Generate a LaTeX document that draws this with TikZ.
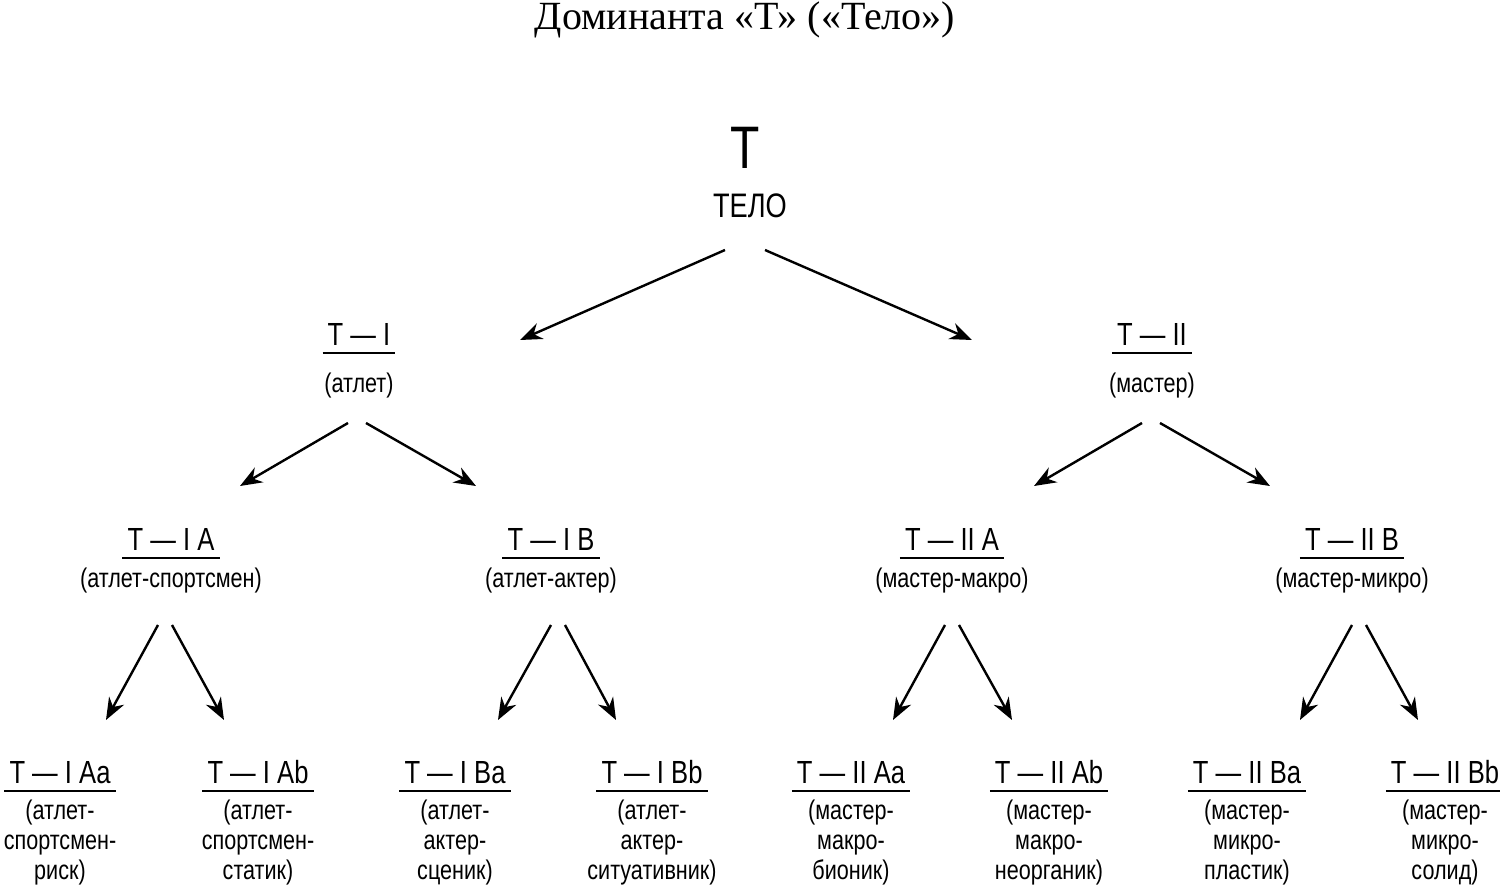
\documentclass[tikz,border=0pt]{standalone}
\usepackage{fontspec}
\setmainfont{Liberation Sans}
\newfontfamily\titlefont{Liberation Serif}
\newfontfamily\narrowfont[FakeStretch=0.8]{Liberation Sans}
\usetikzlibrary{arrows.meta}
\begin{document}
\begin{tikzpicture}[x=1pt,y=-1pt,
  lab/.style={font=\narrowfont\fontsize{32}{36}\selectfont,inner sep=1pt,anchor=base},
  desc/.style={font=\narrowfont\fontsize{27}{30}\selectfont,align=center,inner sep=0pt,anchor=base},
  mdesc/.style={font=\narrowfont\fontsize{27}{30}\selectfont,align=center,inner sep=0pt,anchor=north},
  arr/.style={line width=2.4pt,-{Stealth[length=22pt,width=17pt]}}]
\useasboundingbox (0,0) rectangle (1500,888);
\node[font=\titlefont\fontsize{40}{42}\selectfont,anchor=base] (title) at (745,30) {Доминанта «Т» («Тело»)};
\node[font=\narrowfont\fontsize{60}{60}\selectfont,anchor=base] (T) at (745,168) {Т};
\node[font=\narrowfont\fontsize{34}{36}\selectfont,anchor=base] (telo) at (750,218) {ТЕЛО};
\newcommand\ulab[4]{\node[lab] (#1) at (#2,#3) {#4};
  \draw[line width=1.6pt] ([xshift=-4pt,yshift=-8pt]#1.base west) -- ([xshift=4pt,yshift=-8pt]#1.base east);}
\ulab{t1}{359}{345}{Т — I}
\node[desc] (d1) at (359,392) {(атлет)};
\ulab{t2}{1152}{345}{Т — II}
\node[desc] (d2) at (1152,392) {(мастер)};
\ulab{t1a}{171}{550}{Т — I A}
\node[desc] (d1a) at (171,587) {(атлет-спортсмен)};
\ulab{t1b}{551}{550}{Т — I B}
\node[desc] (d1b) at (551,587) {(атлет-актер)};
\ulab{t2a}{952}{550}{Т — II A}
\node[desc] (d2a) at (952,587) {(мастер-макро)};
\ulab{t2b}{1352}{550}{Т — II B}
\node[desc] (d2b) at (1352,587) {(мастер-микро)};
\ulab{a1}{60}{783}{Т — I Aa}
\node[mdesc] (e1) at (60,800) {(атлет-\\спортсмен-\\риск)};
\ulab{a2}{258}{783}{Т — I Ab}
\node[mdesc] (e2) at (258,800) {(атлет-\\спортсмен-\\статик)};
\ulab{a3}{455}{783}{Т — I Ba}
\node[mdesc] (e3) at (455,800) {(атлет-\\актер-\\сценик)};
\ulab{a4}{652}{783}{Т — I Bb}
\node[mdesc] (e4) at (652,800) {(атлет-\\актер-\\ситуативник)};
\ulab{a5}{851}{783}{Т — II Aa}
\node[mdesc] (e5) at (851,800) {(мастер-\\макро-\\бионик)};
\ulab{a6}{1049}{783}{Т — II Ab}
\node[mdesc] (e6) at (1049,800) {(мастер-\\макро-\\неорганик)};
\ulab{a7}{1247}{783}{Т — II Ba}
\node[mdesc] (e7) at (1247,800) {(мастер-\\микро-\\пластик)};
\ulab{a8}{1445}{783}{Т — II Bb}
\node[mdesc] (e8) at (1445,800) {(мастер-\\микро-\\солид)};
\foreach \n/\x/\y in {s0l/725/250,s0r/765/250,e0l/520/340,e0r/972/340,
  s1l/348/423,s1r/366/423,e1l/240/486,e1r/476/486,
  s2l/1142/423,s2r/1160/423,e2l/1034/486,e2r/1270/486,
  s3l/158/625,s3r/172/625,e3l/106/720,e3r/224/720,
  s4l/551/625,s4r/565/625,e4l/498/720,e4r/616/720,
  s5l/945/625,s5r/959/625,e5l/893/720,e5r/1012/720,
  s6l/1352/625,s6r/1366/625,e6l/1300/720,e6r/1418/720}
  {\coordinate (\n) at (\x,\y);}
\foreach \i in {0,...,6}{\draw[arr] (s\i l) -- (e\i l); \draw[arr] (s\i r) -- (e\i r);}
\end{tikzpicture}
\end{document}
